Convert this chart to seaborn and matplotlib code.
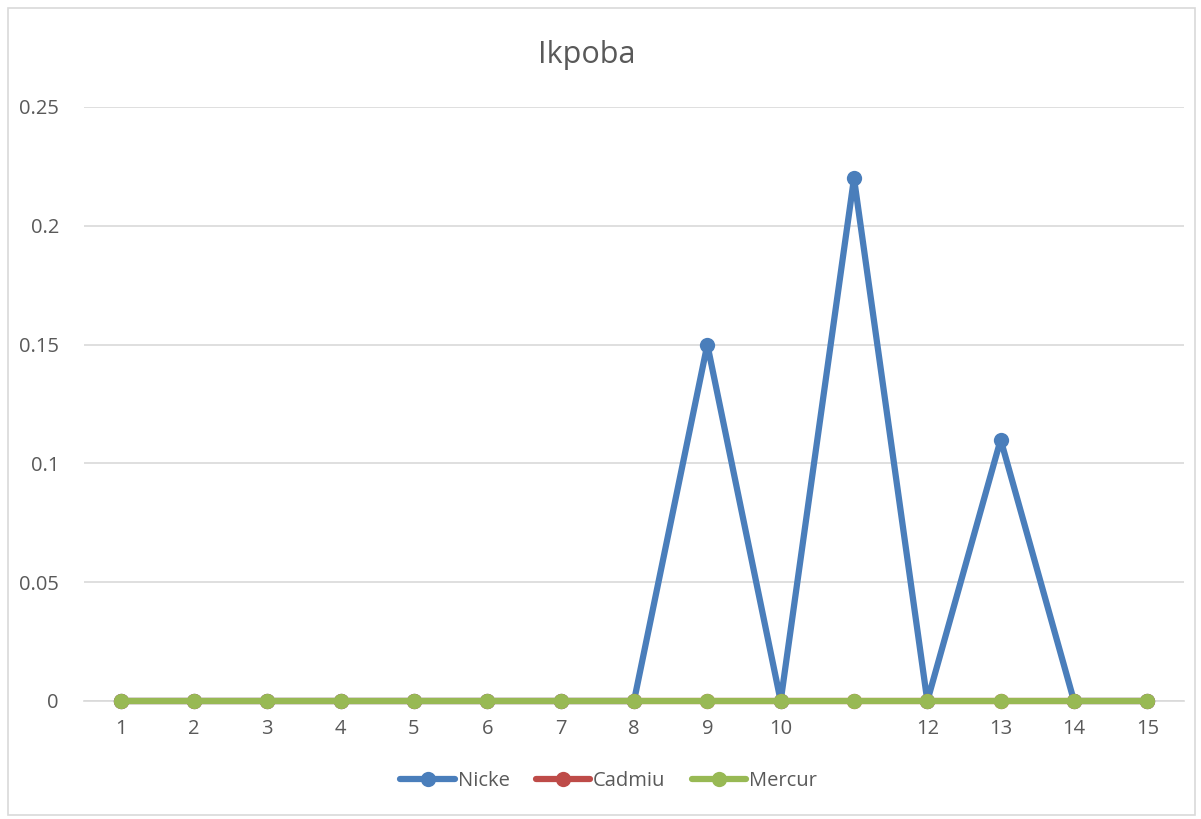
import matplotlib
matplotlib.use("Agg")
import matplotlib.pyplot as plt
import seaborn as sns
import pandas as pd
from matplotlib.patches import Rectangle

sites = list(range(1, 16))
nickel = [0, 0, 0, 0, 0, 0, 0, 0, 0.15, 0, 0.22, 0, 0.11, 0, 0]
cadmium = [0] * 15
mercury = [0] * 15
tick_labels = ["1", "2", "3", "4", "5", "6", "7", "8", "9", "10", "", "12", "13", "14", "15"]
series_names = ["Nicke", "Cadmiu", "Mercur"]
colors = ["#4A7EBB", "#BE4B48", "#98B954"]

df = pd.DataFrame({
    "site": sites * 3,
    "value": nickel + cadmium + mercury,
    "series": [series_names[0]] * 15 + [series_names[1]] * 15 + [series_names[2]] * 15,
})

sns.set_theme(style="white")
plt.rcParams['font.family'] = ['Open Sans', 'DejaVu Sans']

fig = plt.figure(figsize=(12.01, 8.19), dpi=100)
ax = fig.add_axes([84 / 1201, 1 - 701 / 819, (1184 - 84) / 1201, (701 - 107) / 819])

sns.lineplot(data=df, x="site", y="value", hue="series", palette=colors,
             hue_order=series_names, marker="o", markersize=11, linewidth=4.5,
             markeredgewidth=0, ax=ax, legend=True)
for i, ln in enumerate(ax.lines):
    ln.set_clip_on(False)
    ln.set_solid_capstyle("round")
    ln.set_zorder(3 + i * 0.1)

ax.set_xlim(0.5, 15.5)
ax.set_ylim(0, 0.25)
ax.set_yticks([0, 0.05, 0.1, 0.15, 0.2, 0.25])
ax.set_yticklabels(["0", "0.05", "0.1", "0.15", "0.2", "0.25"])
ax.set_xticks(sites)
ax.set_xticklabels(tick_labels)
ax.grid(axis="y", color="#D9D9D9", linewidth=1.2)
ax.set_axisbelow(True)
for s in ["top", "right", "left"]:
    ax.spines[s].set_visible(False)
ax.spines["bottom"].set_color("#D9D9D9")
ax.spines["bottom"].set_linewidth(1.2)
ax.tick_params(axis="both", length=0, labelsize=14.5, colors="#595959", pad=13)
ax.tick_params(axis="y", pad=18)
ax.set_xlabel("")
ax.set_ylabel("")

fig.text(587 / 1201, 1 - 55 / 819, "Ikpoba", ha="center", va="center",
         fontsize=22, color="#595959")

handles, labels = ax.get_legend_handles_labels()
for h in handles:
    h.set_linewidth(4.5)
ax.legend(handles, labels, loc="center", bbox_to_anchor=(0.477, -0.135), ncol=3,
          frameon=False, fontsize=14.5, handlelength=2.7, handletextpad=0.15,
          columnspacing=1.3, labelcolor="#595959")

fig.patches.append(Rectangle((8 / 1201, 1 - 815 / 819), (1195 - 8) / 1201, (815 - 8) / 819,
                             transform=fig.transFigure, fill=False,
                             edgecolor="#D9D9D9", linewidth=1.2))

fig.savefig("out.png", dpi=100)
